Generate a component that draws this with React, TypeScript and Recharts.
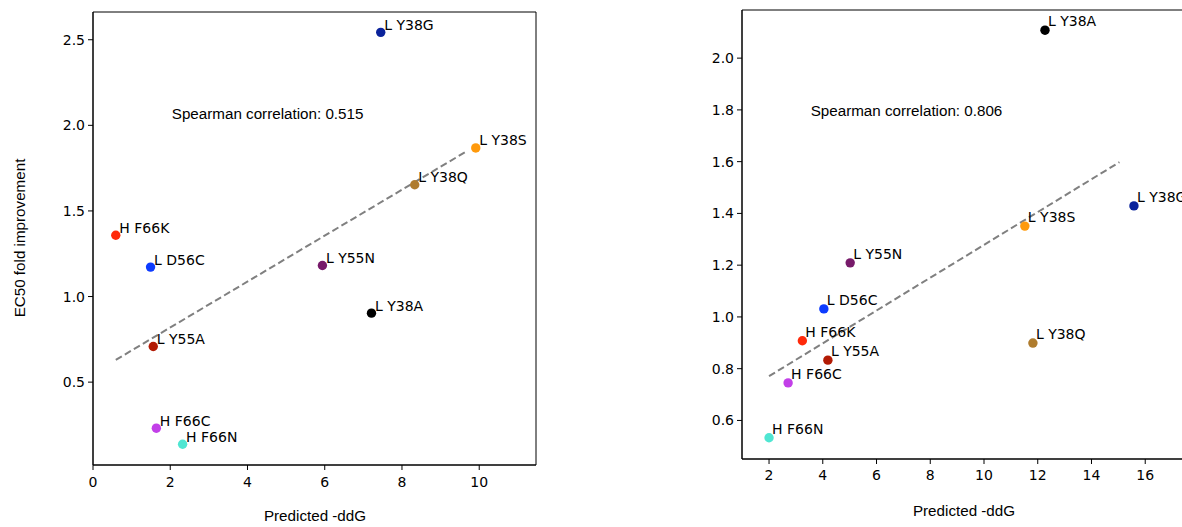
import React from 'react'
import { ScatterChart, Scatter, XAxis, YAxis, ReferenceArea } from 'recharts'

const mutations = ['L Y38G', 'L Y38S', 'L Y38Q', 'H F66K', 'L D56C', 'L Y55N', 'L Y38A', 'L Y55A', 'H F66C', 'H F66N']

// left panel
const ddgLeft = [7.45, 9.91, 8.33, 0.59, 1.49, 5.94, 7.21, 1.56, 1.64, 2.32]
const ec50Left = [2.543, 1.868, 1.653, 1.358, 1.172, 1.181, 0.903, 0.708, 0.231, 0.137]
const fitLeftX = [0.59, 9.67]
const fitLeftY = [0.63, 1.848]
const spearmanLeft = '0.515'
const xTicksLeft = [0, 2, 4, 6, 8, 10]
const yTicksLeft = [0.5, 1.0, 1.5, 2.0, 2.5]

// right panel
const ddgRight = [15.58, 11.52, 11.82, 3.24, 4.04, 5.02, 12.27, 4.19, 2.71, 2.0]
const ec50Right = [1.429, 1.351, 0.899, 0.908, 1.031, 1.209, 2.108, 0.833, 0.745, 0.533]
const fitRightX = [2.0, 15.04]
const fitRightY = [0.771, 1.598]
const spearmanRight = '0.806'
const xTicksRight = [2, 4, 6, 8, 10, 12, 14, 16]
const yTicksRight = [0.6, 0.8, 1.0, 1.2, 1.4, 1.6, 1.8, 2.0]

const pointColors: Record<string, string> = {
  'L Y38G': '#0b239b',
  'L Y38S': '#ff9a0c',
  'L Y38Q': '#af7c2e',
  'H F66K': '#ff2a0a',
  'L D56C': '#0d3bff',
  'L Y55N': '#771a6a',
  'L Y38A': '#000000',
  'L Y55A': '#b21a04',
  'H F66C': '#c23fe8',
  'H F66N': '#4fe6d2',
}

const tickStyle = { fill: '#000', fontSize: 14, fontFamily: 'DejaVu Sans' }
const labelFont = 'Liberation Sans, Arial, sans-serif'

interface PanelProps {
  ddg: number[]
  ec50: number[]
  fitX: number[]
  fitY: number[]
  rho: string
  rhoAt: [number, number]
  xDomain: [number, number]
  yDomain: [number, number]
  xTicks: number[]
  yTicks: number[]
  margin: { top: number; right: number; bottom: number; left: number }
  labelDx: number
  labelDy: number
  xTickMargin: number
}

function Panel({ ddg, ec50, fitX, fitY, rho, rhoAt, xDomain, yDomain, xTicks, yTicks, margin, labelDx, labelDy, xTickMargin }: PanelProps) {
  const points = mutations.map((name, i) => ({ name, x: ddg[i], y: ec50[i] }))
  const fit = fitX.map((x, i) => ({ x, y: fitY[i] }))

  return (
    <ScatterChart width={560} height={527} margin={margin}>
      <XAxis
        type="number"
        dataKey="x"
        domain={xDomain}
        ticks={xTicks}
        allowDataOverflow
        height={30}
        tickSize={5}
        tickMargin={xTickMargin}
        tick={tickStyle}
        stroke="#000"
      />
      <YAxis
        type="number"
        dataKey="y"
        domain={yDomain}
        ticks={yTicks}
        allowDataOverflow
        width={60}
        tickSize={5}
        tickMargin={3}
        tick={tickStyle}
        tickFormatter={(v: number) => v.toFixed(1)}
        stroke="#000"
      />
      <ReferenceArea
        x1={xDomain[0]}
        x2={xDomain[1]}
        y1={yDomain[0]}
        y2={yDomain[1]}
        fill="none"
        fillOpacity={0}
        stroke="#000"
        strokeWidth={1}
      />
      <Scatter
        data={fit}
        line={{ stroke: '#808080', strokeWidth: 2, strokeDasharray: '7 3.5' }}
        shape={() => <g />}
        isAnimationActive={false}
      />
      <Scatter
        data={points}
        isAnimationActive={false}
        shape={(p: any) => (
          <g>
            <circle cx={p.cx} cy={p.cy} r={4.7} fill={pointColors[p.payload.name]} />
            <text x={p.cx + labelDx} y={p.cy + labelDy} fontSize={14} fontFamily="DejaVu Sans" fill="#000">
              {p.payload.name}
            </text>
          </g>
        )}
      />
      <Scatter
        data={[{ x: rhoAt[0], y: rhoAt[1] }]}
        isAnimationActive={false}
        shape={(p: any) => (
          <text x={p.cx} y={p.cy} fontSize={15.2} fontFamily={labelFont} fill="#000">
            Spearman correlation: {rho}
          </text>
        )}
      />
    </ScatterChart>
  )
}

const axisLabel: React.CSSProperties = {
  position: 'absolute',
  fontFamily: labelFont,
  fontSize: 15.2,
  lineHeight: 1,
  whiteSpace: 'nowrap',
  color: '#000',
}

export default function App() {
  return (
    <div style={{ position: 'absolute', left: 0, top: 0, width: 1182, height: 527, overflow: 'hidden', background: '#fff' }}>
      <div style={{ position: 'absolute', left: 0, top: 0 }}>
        <Panel
          ddg={ddgLeft}
          ec50={ec50Left}
          fitX={fitLeftX}
          fitY={fitLeftY}
          rho={spearmanLeft}
          rhoAt={[2.04, 2.037]}
          xDomain={[0, 11.47]}
          yDomain={[0.016, 2.662]}
          xTicks={xTicksLeft}
          yTicks={yTicksLeft}
          margin={{ top: 12, right: 24, bottom: 32, left: 33 }}
          labelDx={3.5}
          labelDy={-2.5}
          xTickMargin={7}
        />
      </div>
      <div style={{ position: 'absolute', left: 640, top: 0 }}>
        <Panel
          ddg={ddgRight}
          ec50={ec50Right}
          fitX={fitRightX}
          fitY={fitRightY}
          rho={spearmanRight}
          rhoAt={[3.55, 1.777]}
          xDomain={[0.994, 17.48]}
          yDomain={[0.451, 2.186]}
          xTicks={xTicksRight}
          yTicks={yTicksRight}
          margin={{ top: 10, right: 15, bottom: 38, left: 42 }}
          labelDx={3}
          labelDy={-3.8}
          xTickMargin={6}
        />
      </div>
      <div style={{ ...axisLabel, left: 315, top: 516, transform: 'translate(-50%, -50%)' }}>Predicted -ddG</div>
      <div style={{ ...axisLabel, left: 964, top: 511, transform: 'translate(-50%, -50%)' }}>Predicted -ddG</div>
      <div style={{ ...axisLabel, left: 20, top: 238, transform: 'translate(-50%, -50%) rotate(-90deg)' }}>
        EC50 fold improvement
      </div>
    </div>
  )
}
